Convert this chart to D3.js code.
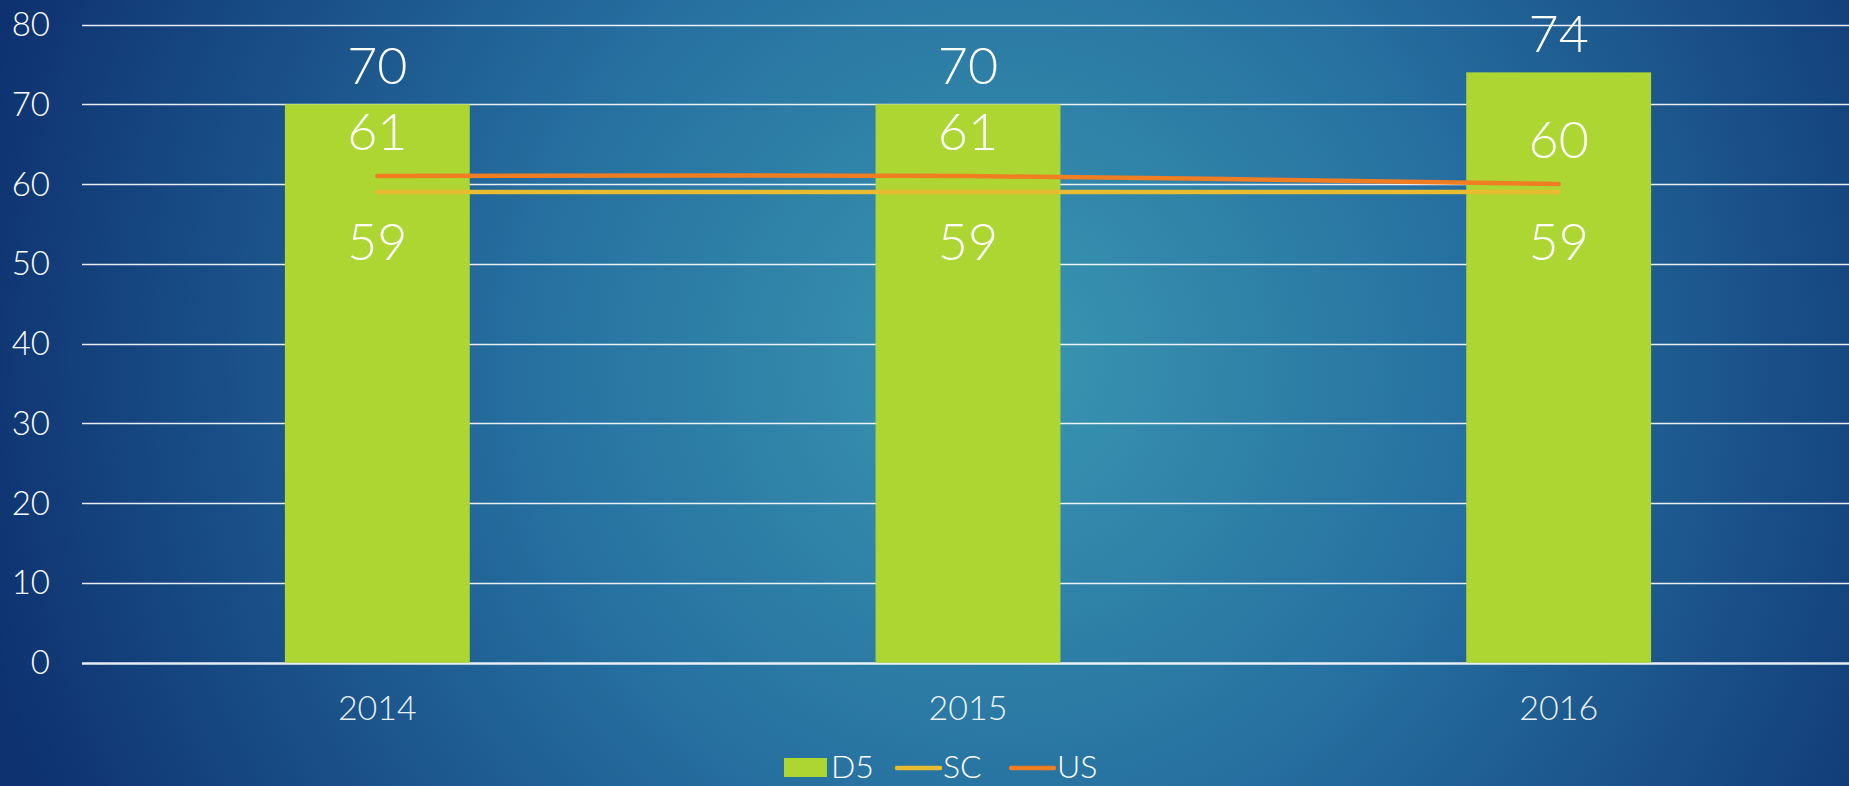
<!DOCTYPE html>
<html>
<head>
<meta charset="utf-8">
<script src="https://cdn.jsdelivr.net/npm/d3@7"></script>
<style>
  html, body { margin: 0; padding: 0; overflow: hidden; }
  body { width: 1849px; height: 786px; }
  text { font-family: "Lato", "Open Sans", sans-serif; font-weight: 300; fill: #fff; }
</style>
</head>
<body>
<script>
// chart data
var years = ['2014', '2015', '2016'];
var d5 = [70, 70, 74];
var sc = [59, 59, 59];
var us = [61, 61, 60];
var yTicks = [0, 10, 20, 30, 40, 50, 60, 70, 80];

var width = 1849;
var height = 786;

var svg = d3.select('body').append('svg')
  .attr('width', width)
  .attr('height', height);

// background gradient
var defs = svg.append('defs');
var grad = defs.append('radialGradient')
  .attr('id', 'bg')
  .attr('gradientUnits', 'userSpaceOnUse')
  .attr('cx', 1000).attr('cy', 360)
  .attr('r', 1050);
grad.append('stop').attr('offset', '0%').attr('stop-color', '#3a97b1');
grad.append('stop').attr('offset', '45%').attr('stop-color', '#2670a0');
grad.append('stop').attr('offset', '100%').attr('stop-color', '#0e3270');

svg.append('rect')
  .attr('width', width)
  .attr('height', height)
  .attr('fill', 'url(#bg)');

var x = d3.scaleBand()
  .domain(years)
  .range([82, 1854])
  .paddingInner(0.687)
  .paddingOuter(0.3435);

var y = d3.scaleLinear()
  .domain([0, 80])
  .range([662.7, 24.5]);

var cx = function(d, i) { return x(years[i]) + x.bandwidth() / 2; };

// gridlines
svg.append('g').selectAll('line')
  .data(yTicks)
  .enter().append('line')
  .attr('x1', 82).attr('x2', width)
  .attr('y1', function(d) { return Math.round(y(d)) + 0.5; })
  .attr('y2', function(d) { return Math.round(y(d)) + 0.5; })
  .attr('stroke', '#ffffff')
  .attr('stroke-opacity', 0.9)
  .attr('stroke-width', function(d) { return d === 0 ? 2.5 : 1.6; });

// y tick labels
svg.append('g').selectAll('text')
  .data(yTicks)
  .enter().append('text')
  .attr('x', 50)
  .attr('y', function(d) { return y(d); })
  .attr('dy', '0.35em')
  .attr('text-anchor', 'end')
  .style('font-size', '33px')
  .text(function(d) { return d; });

// x labels
svg.append('g').selectAll('text')
  .data(years)
  .enter().append('text')
  .attr('x', function(d) { return x(d) + x.bandwidth() / 2; })
  .attr('y', 720)
  .attr('text-anchor', 'middle')
  .style('font-size', '34px')
  .style('fill-opacity', 0.92)
  .text(function(d) { return d; });

// bars
svg.append('g').selectAll('rect')
  .data(d5)
  .enter().append('rect')
  .attr('x', function(d, i) { return x(years[i]); })
  .attr('y', function(d) { return y(d); })
  .attr('width', x.bandwidth())
  .attr('height', function(d) { return y(0) - y(d); })
  .attr('fill', '#add633');

// lines
var line = d3.line()
  .x(cx)
  .y(function(d) { return y(d); })
  .curve(d3.curveCatmullRom.alpha(0.5));

svg.append('path')
  .datum(sc)
  .attr('d', line)
  .attr('fill', 'none')
  .attr('stroke', '#e8bb30')
  .attr('stroke-width', 4.5)
  .attr('stroke-linecap', 'round');

svg.append('path')
  .datum(us)
  .attr('d', line)
  .attr('fill', 'none')
  .attr('stroke', '#ef7d22')
  .attr('stroke-width', 4.5)
  .attr('stroke-linecap', 'round');

// data labels
svg.append('g').selectAll('text')
  .data(d5)
  .enter().append('text')
  .attr('x', cx)
  .attr('y', function(d) { return y(d) - 20; })
  .attr('text-anchor', 'middle')
  .style('font-size', '52px')
  .text(function(d) { return d; });

svg.append('g').selectAll('text')
  .data(us)
  .enter().append('text')
  .attr('x', cx)
  .attr('y', function(d) { return y(d) - 26; })
  .attr('text-anchor', 'middle')
  .style('font-size', '52px')
  .text(function(d) { return d; });

svg.append('g').selectAll('text')
  .data(sc)
  .enter().append('text')
  .attr('x', cx)
  .attr('y', function(d) { return y(d) + 68; })
  .attr('text-anchor', 'middle')
  .style('font-size', '52px')
  .text(function(d) { return d; });

// legend
var legend = svg.append('g');
legend.append('rect')
  .attr('x', 784).attr('y', 758)
  .attr('width', 43).attr('height', 19)
  .attr('fill', '#add633');
legend.append('text')
  .attr('x', 831).attr('y', 778)
  .style('font-size', '32px')
  .text('D5');

legend.append('line')
  .attr('x1', 897).attr('x2', 940)
  .attr('y1', 768).attr('y2', 768)
  .attr('stroke', '#e8bb30')
  .attr('stroke-width', 4.5)
  .attr('stroke-linecap', 'round');
legend.append('text')
  .attr('x', 943).attr('y', 778)
  .style('font-size', '32px')
  .text('SC');

legend.append('line')
  .attr('x1', 1011).attr('x2', 1054)
  .attr('y1', 768).attr('y2', 768)
  .attr('stroke', '#ef7d22')
  .attr('stroke-width', 4.5)
  .attr('stroke-linecap', 'round');
legend.append('text')
  .attr('x', 1057).attr('y', 778)
  .style('font-size', '32px')
  .text('US');
</script>
</body>
</html>
